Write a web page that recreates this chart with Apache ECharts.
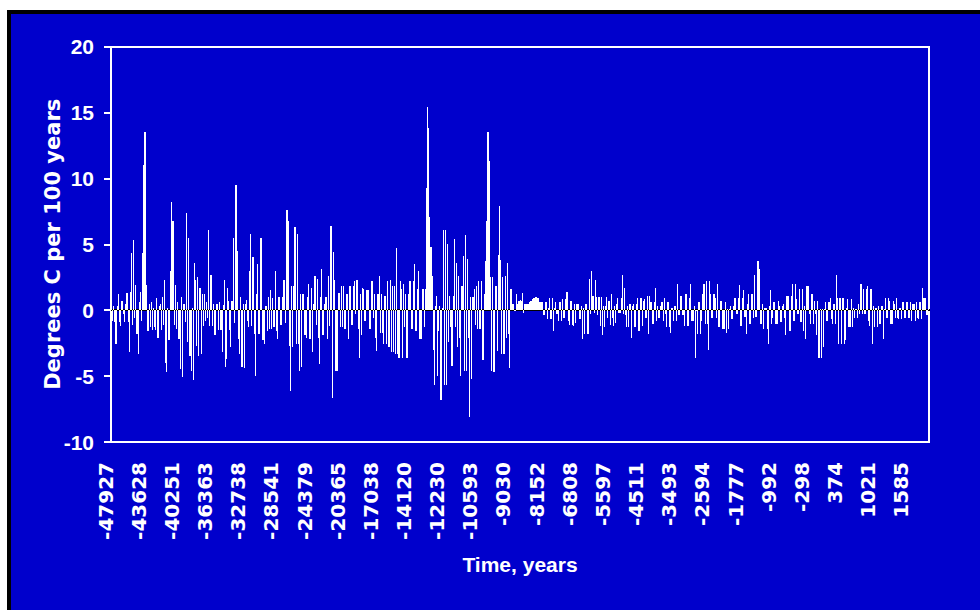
<!DOCTYPE html>
<html>
<head>
<meta charset="utf-8">
<script src="https://cdn.jsdelivr.net/npm/echarts@6/dist/echarts.min.js"></script>
<style>
html,body{margin:0;padding:0;background:#fff;overflow:hidden}
#c{width:980px;height:610px}
#c svg path{shape-rendering:crispEdges}
</style>
</head>
<body>
<div id="c"></div>
<script>
// Category tick labels (years), one every LABEL_STEP samples
const tickLabels = ['-47927','-43628','-40251','-36363','-32738','-28541','-24379','-20365','-17038','-14120','-12230','-10593','-9030','-8152','-6808','-5597','-4511','-3493','-2594','-1777','-992','-298','374','1021','1585'];
const LABEL_STEP = 30;

// Rate of temperature change, degrees C per 100 years
const rateA = [
  0.3,-0.8, 0.3,-0.9, -2.6,0.3, 1.2,-0.9, -1.2,0.7, 0.7,-0.3, -0.9,0.5, 1.3,-0.9, -3.2,1.4, 4.3,-1.1, 5.3,-0.6, 1.9,-1.8, -3.3,0.6, 1.4,-0.8, 4.3,11.0,
  13.5,13.5, 1.9,-1.6, 0.45,-1.3, 0.6,-1.5, 0.2,-1.3, -1.5,0.9, -2.1,0.3, 0.5,-1.5, 1.0,-1.1, 2.3,-4.0, -4.7,0.2, -2.3,3.0, 8.2,6.8, 6.8,-1.1, 1.9,-1.4,
  0.6,-2.2, -4.5,1.0, -5.1,0.5, 0.5,-0.9, 7.4,-2.4, 5.5,-3.5, -4.6,0.2, -5.3,3.6, 2.3,-2.7, 2.5,-3.5, 1.7,-3.3, 1.2,-1.2, 1.2,-0.8, 0.6,-0.6, 6.1,-1.2,
  2.7,-1.2, 0.45,-1.9, -1.9,0.45, 0.5,-1.5, 0.6,-1.5, -3.2,0.4, 2.3,-4.3, -3.7,1.7, 0.7,-1.5, -2.8,0.7, 5.5,-1.0, 9.5,9.5, 4.5,-2.2, -3.3,1.0, -4.3,0.45,
  -4.4,0.45, 0.8,-0.8, -1.3,3.0, 5.8,-1.2, 4.0,-1.8, -5.0,1.2, 3.5,-1.8, -1.8,5.5, 5.5,-2.3, -2.6,0.3, 0.3,-1.6, 1.0,-1.4, 1.5,-1.4, 0.9,-1.3, 3.0,-1.6
];
const rateB = [
  -2.2,1.0, 1.0,-1.1, -1.1,1.0, 2.3,-1.0, 7.6,7.6, 6.8,-2.7, -6.1,1.8, -2.8,1.8, 6.3,-2.6, 5.8,-2.6, -4.6,1.2, -4.3,1.2, 1.2,-1.9, -2.1,1.0, 2.0,-2.2,
  -2.2,1.7, -3.2,0.45, 2.6,-1.1, 2.4,-2.1, -4.1,1.0, 3.1,-1.9, -1.9,0.5, 1.0,-2.2, 2.6,-1.2, 6.4,6.4, -6.7,4.4, 2.3,-4.6, -4.6,1.3, 1.3,-1.3, 1.8,-1.3,
  1.8,-1.4, -1.4,1.2, -2.2,1.8, 1.8,-1.1, -1.1,1.8, 2.2,-0.3, 2.3,-1.4, -3.6,1.2, -1.9,1.7, 1.6,-0.8, -0.8,1.5, 1.5,-1.4, -1.4,2.2, 2.2,-0.56, 1.2,-2.1,
  -3.1,1.2, 2.6,-1.7, 1.2,-1.7, -2.6,1.1, 1.1,-2.6, 2.2,-2.8, 2.3,-3.2, 1.8,-3.2, 1.8,-3.3, 4.7,-3.3, -3.6,2.2, 1.6,-3.6, 2.0,-1.3, 1.2,-3.6, -3.6,1.2,
  2.2,-1.4, -1.4,2.2, 3.5,-1.6, -1.6,1.6, 3.0,-2.2, -2.2,1.6, 1.6,-1.3, 1.6,9.3, 15.4,13.8, 7.1,4.8, 2.6,-3.0, -5.7,0.3, 1.1,-5.0, -1.6,0.3, -6.8,0.2
];
const rateC = [
  6.1,-5.7, 6.1,-5.7, 5.0,-2.4, 1.1,-1.3, -4.2,1.1, 5.4,-1.3, 3.6,-2.8, 2.6,-2.1, -5.0,1.8, 4.1,-4.6, 5.7,-4.6, 3.9,-2.1, -8.1,1.0, -5.2,1.0, 1.6,-1.1,
  1.8,-1.4, 2.2,-1.4, -1.4,2.2, -3.8,1.2, 3.7,6.8, 13.5,13.5, 11.3,2.5, -4.6,2.5, -4.7,1.8, 1.8,-3.1, 4.2,7.9, 3.8,-3.3, 2.5,-3.3, 2.6,-2.1, 3.6,-1.8,
  -4.4,1.6, 1.6,0.45, 0.45,-0.05, 1.2,0.45, 0.7,0.7, 0.8,0.7, 1.3,-0.2, 0.45,0.45, 0.45,0.45, 0.6,0.7, 0.7,0.85, 0.96,0.96, 1.0,0.96, 0.9,0.6, 0.6,0.6,
  0.6,-0.4, -0.4,0.6, -0.7,0.2, 0.9,-0.7, -0.7,0.9, -1.6,0.2, 0.6,-0.3, -0.8,0.6, 0.6,-0.8, 0.85,-0.56, -0.56,0.85, 1.4,-0.8, -1.1,0.7, 0.7,-1.1, -1.2,0.45,
  -1.0,0.45, 0.45,-0.7, -0.7,0.3, -2.2,0.2, -1.8,0.45, 0.45,-1.8, 2.4,-0.3, 3.0,1.1, 1.1,-0.2, 2.3,1.0, -0.4,1.0, -1.2,1.0, -1.9,0.3, -1.3,0.3, 1.0,-0.56
];
const rateD = [
  0.7,-1.1, 1.2,-0.56, -1.2,0.3, -1.0,0.5, 0.96,-0.2, -0.2,0.96, 2.7,-0.3, 1.7,-0.4, -1.3,0.3, -1.3,0.45, -2.1,0.3, 0.45,-1.3, -1.3,0.45, 0.96,-1.6, -1.6,0.96,
  -1.2,0.7, 0.85,-0.56, -0.56,1.1, -1.8,1.1, 0.6,-1.06, -1.06,0.6, 1.7,-0.8, 0.3,-0.56, -0.56,0.3, 0.6,-0.8, 0.96,-0.3, -1.3,0.6, 0.6,-1.3, -1.7,0.2, -0.8,0.3,
  0.3,-0.8, 2.0,-0.4, -0.4,1.1, 1.1,-0.4, -1.2,1.2, 1.2,-1.2, -1.2,0.96, 2.0,-0.8, -0.8,0.3, -3.6,-0.05, -1.8,0.6, 0.6,-1.8, -0.8,1.2, 2.0,-1.06, 2.2,-1.06,
  -3.0,2.2, 1.2,-0.56, -0.56,1.2, 0.96,-0.56, 2.0,-1.3, -1.3,0.7, 0.7,-1.4, -1.4,0.6, -1.7,0.1, -1.4,0.1, 0.3,-0.7, -0.7,0.3, 0.96,-0.3, -0.3,0.96, 1.9,-1.2,
  -1.2,0.96, 1.5,-0.5, -1.8,0.45, 1.2,-1.06, -1.06,1.2, 1.2,-0.56, 2.7,-0.5, 3.7,3.7, 3.1,-1.06, -1.06,0.45, -1.4,0.2, 0.2,-1.4, -2.6,0.3, 1.5,-1.06, -0.56,0.6
];
const rateE = [
  0.6,-1.06, -1.06,0.7, 0.3,-0.9, -0.9,0.3, 0.45,-0.56, -1.9,1.1, 1.1,-1.6, -1.6,1.1, 2.0,-0.8, -0.8,2.0, 0.85,-0.3, 1.6,-0.9, -0.9,1.6, -1.6,0.3, -2.2,1.8,
  1.8,-0.3, -1.06,1.2, 1.2,-1.06, 0.7,-0.3, -1.9,0.7, -3.6,0.1, -3.6,0.1, -2.8,0.1, 0.6,-0.8, -0.8,0.6, 0.96,-0.7, -1.06,0.45, 0.45,-1.06, 2.7,0.96, -2.6,0.96,
  -2.6,0.96, 0.96,-2.6, -2.3,0.2, 0.85,-1.3, -1.3,0.85, -1.3,0.2, -0.56,0.1, 0.1,-0.56, 0.45,-0.3, 2.0,-0.3, 1.6,-0.3, -0.3,1.6, 1.8,-0.8, -1.2,1.6, -2.6,0.3,
  -1.3,0.2, 0.2,-1.3, 0.3,-1.06, -1.06,0.3, -2.2,0.1, 0.9,-0.56, -0.56,0.9, 0.7,-1.06, -1.06,0.7, 0.45,-0.56, 0.96,-0.56, -0.7,0.2, 0.2,-0.7, 0.6,-0.56, -0.56,0.6,
  0.6,-0.56, -0.56,0.6, -0.8,0.45, 0.45,-0.8, 0.6,-0.56, -0.7,0.6, 0.6,-0.7, 1.7,0.96, 0.96,-0.4, -0.4,0.5
];
const values = rateA.concat(rateB, rateC, rateD, rateE);

const yTitle = 'Degrees C per 100 years';
const xTitle = 'Time, years';
const yMin = -10, yMax = 20, yStep = 5;

const categories = values.map((_, i) => String(i));
const horizFont = '"Liberation Sans", Arial, sans-serif';
const rotFont = '"DejaVu Sans", "Liberation Sans", sans-serif';

const chart = echarts.init(document.getElementById('c'), null, {renderer: 'svg'});
chart.setOption({
  backgroundColor: '#ffffff',
  animation: false,
  graphic: [{
    type: 'rect', z: -100, silent: true,
    shape: {x: 9, y: 11.5, width: 1000, height: 700},
    style: {fill: '#0000CC', stroke: '#000000', lineWidth: 4}
  }],
  grid: {
    left: 111, top: 46.5, width: 818, height: 395.5,
    show: true, borderColor: '#ffffff', borderWidth: 2, backgroundColor: 'transparent'
  },
  xAxis: [{
    type: 'category', data: categories, position: 'bottom',
    axisLine: {show: false, onZero: false},
    axisTick: {show: false},
    splitLine: {show: false},
    axisLabel: {
      interval: LABEL_STEP - 1, rotate: 90, margin: 20,
      verticalAlign: 'bottom', lineHeight: 12,
      color: '#ffffff', fontFamily: rotFont, fontWeight: 'bold', fontSize: 20,
      formatter: (v, i) => (i % LABEL_STEP === 0 ? tickLabels[i / LABEL_STEP] : '')
    },
    name: xTitle, nameLocation: 'middle', nameGap: 112,
    nameTextStyle: {color: '#ffffff', fontFamily: horizFont, fontWeight: 'bold', fontSize: 21}
  }, {
    type: 'category', data: categories, position: 'bottom',
    axisLine: {show: true, onZero: true, lineStyle: {color: '#000000', width: 1.5}},
    axisTick: {show: false}, axisLabel: {show: false}, splitLine: {show: false}
  }],
  yAxis: {
    type: 'value', min: yMin, max: yMax, interval: yStep,
    axisLine: {show: true, lineStyle: {color: '#ffffff', width: 2}},
    axisTick: {show: true, length: 7, lineStyle: {color: '#ffffff', width: 2}},
    splitLine: {show: false},
    axisLabel: {color: '#ffffff', fontFamily: horizFont, fontWeight: 'bold', fontSize: 21, margin: 17},
    name: yTitle, nameLocation: 'middle', nameGap: 48, nameMoveOverlap: false,
    nameTextStyle: {color: '#ffffff', fontFamily: rotFont, fontWeight: 'bold', fontSize: 21}
  },
  series: [{
    type: 'bar', data: values, xAxisIndex: 0, yAxisIndex: 0,
    barWidth: '100%', silent: true, z: 2,
    itemStyle: {color: '#ffffff'}
  }]
});
</script>
</body>
</html>
